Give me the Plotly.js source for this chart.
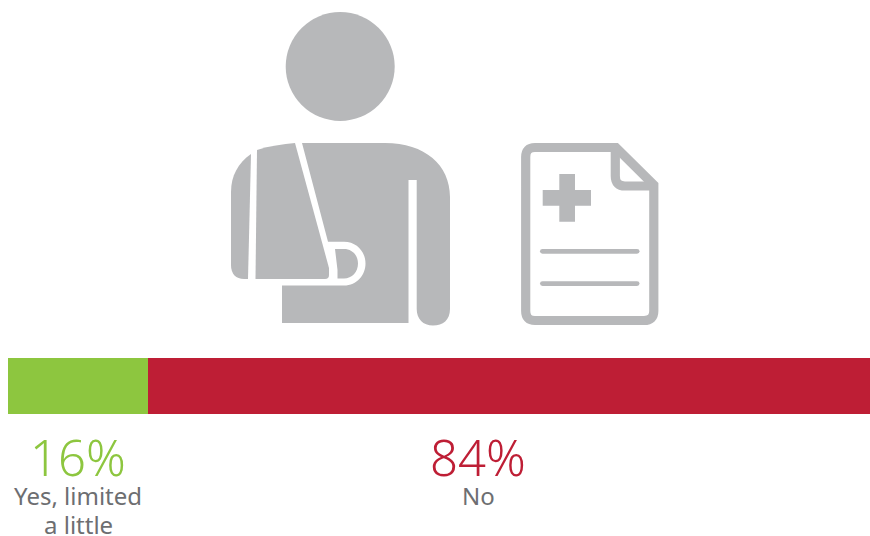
<!DOCTYPE html>
<html><head><meta charset="utf-8">
<script src="https://cdn.plot.ly/plotly-3.0.1.min.js"></script>
<style>html,body{margin:0;padding:0;background:#fff}#chart{width:870px;height:536px}</style>
</head><body><div id="chart"></div>
<script>
const categories = ['Yes, limited a little', 'No'];
const labelLines = [['Yes, limited', 'a little'], ['No']];
const values = [16.2, 83.8];
const shownPercent = ['16%', '84%'];
const colors = ['#8dc63f', '#be1e35'];
const labelCentersPx = [78, 478];
const GRAY = '#b7b8ba', TEXT = '#6d6e71', FONT = '"Noto Sans", Lato, sans-serif';

const traces = categories.map((c, i) => ({
  type: 'bar', orientation: 'h', y: ['share'], x: [values[i]], name: c,
  marker: {color: colors[i], line: {width: 0}}, hoverinfo: 'name+x', showlegend: false
}));
traces.push({type: 'scatter', mode: 'none', x: [], y: [], xaxis: 'x2', yaxis: 'y2', showlegend: false, hoverinfo: 'skip'});

const fillPath = (path, color) => ({type: 'path', xref: 'x2', yref: 'y2', path, fillcolor: color, line: {width: 0}});
const strokePath = (path, w) => ({type: 'path', xref: 'x2', yref: 'y2', path, fillcolor: 'rgba(0,0,0,0)', line: {color: GRAY, width: w}});

const shapes = [
  {type: 'circle', xref: 'x2', yref: 'y2', x0: 285.7, x1: 394.7, y0: 12, y1: 121, fillcolor: GRAY, line: {width: 0}},
  fillPath('M251,154 C238,163 231,176 231,192 L231,265 C231,274 236,279 244,279 L248,279 Z', GRAY),
  fillPath('M257,150 C269,146 283,144 295,143 L329,268 L329,275 Q329,279 325,279 L255.5,279 Z', GRAY),
  fillPath('M302,143 L385,143 C425,143 450,165 450,197 L450,309 C450,320 443,325.5 433,325.5 C423,325.5 416.7,319 416.7,309 L416.7,180 L408.5,180 L408.5,323 L282,323 L282,285.5 L344,285.5 C357,285.5 365.5,275 365.5,263.5 C365.5,252 357,241.7 344,241.7 L328,241.7 Z', GRAY),
  fillPath('M335,249 L344,249 C352,249 358,255 358,263.5 C358,272 352,278.5 344,278.5 L337.5,278.5 L337.5,270 Z', GRAY),
  strokePath('M535,147.5 L616,147.5 L653.8,185 L653.8,311 Q653.8,320.5 644,320.5 L535,320.5 Q525.7,320.5 525.7,311 L525.7,157 Q525.7,147.5 535,147.5 Z', 9.2),
  strokePath('M615.3,147 L615.3,176 Q615.3,186 625,186 L654,186', 9.2),
  fillPath('M559.3,174 L575,174 L575,190 L591,190 L591,205.7 L575,205.7 L575,221.7 L559.3,221.7 L559.3,205.7 L542.7,205.7 L542.7,190 L559.3,190 Z', GRAY),
  fillPath('M542.5,249 L637,249 Q639.5,249 639.5,251.3 Q639.5,253.7 637,253.7 L542.5,253.7 Q540,253.7 540,251.3 Q540,249 542.5,249 Z', GRAY),
  fillPath('M542.5,281.2 L637,281.2 Q639.5,281.2 639.5,283.5 Q639.5,285.9 637,285.9 L542.5,285.9 Q540,285.9 540,283.5 Q540,281.2 542.5,281.2 Z', GRAY)
];

const annotations = [];
categories.forEach((c, i) => {
  annotations.push({xref: 'x2', yref: 'y2', x: labelCentersPx[i], y: 457, text: shownPercent[i], showarrow: false,
    xanchor: 'center', yanchor: 'middle', font: {family: FONT, size: 49, weight: 300, color: colors[i]}});
  labelLines[i].forEach((line, k) => {
    annotations.push({xref: 'x2', yref: 'y2', x: labelCentersPx[i], y: 495 + 29 * k, text: line, showarrow: false,
      xanchor: 'center', yanchor: 'middle', align: 'center', font: {family: FONT, size: 24, color: TEXT}});
  });
});

const layout = {
  width: 870, height: 536, margin: {l: 0, r: 0, t: 0, b: 0},
  paper_bgcolor: '#fff', plot_bgcolor: 'rgba(0,0,0,0)', barmode: 'stack', bargap: 0, showlegend: false,
  xaxis: {domain: [8 / 870, 1], range: [0, 100], visible: false, fixedrange: true},
  yaxis: {domain: [122 / 536, 178 / 536], visible: false, fixedrange: true},
  xaxis2: {domain: [0, 1], range: [0, 870], visible: false, fixedrange: true, anchor: 'y2'},
  yaxis2: {domain: [0, 1], range: [536, 0], visible: false, fixedrange: true, anchor: 'x2'},
  shapes, annotations
};
Plotly.newPlot('chart', traces, layout, {displayModeBar: false, responsive: false});
</script></body></html>
